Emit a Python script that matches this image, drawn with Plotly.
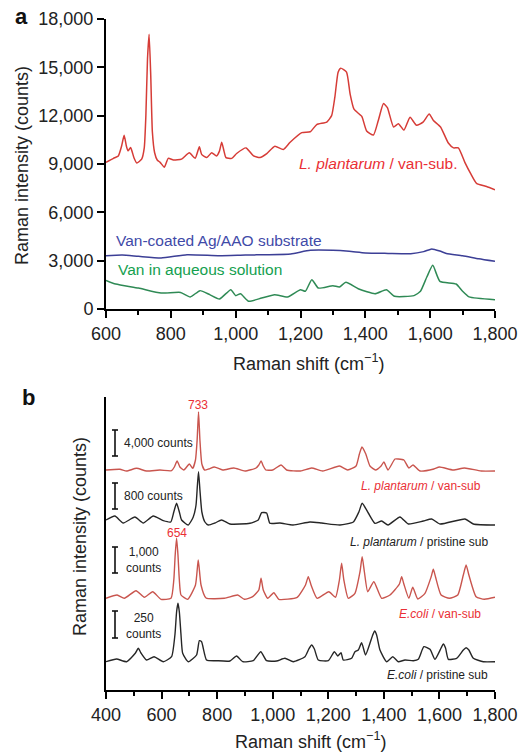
import plotly.graph_objects as go

W, H = 528, 752

# ---------------- Panel a data (Raman shift cm^-1, counts) ----------------
lp_van_x = [600, 623, 638, 648, 656, 663, 668, 676, 686, 695, 710, 718, 723, 728, 733, 738, 743, 750,
            758, 767, 780, 792, 808, 833, 857, 875, 888, 895, 911, 926, 941, 950, 957, 964, 970, 988,
            1003, 1032, 1055, 1075, 1096, 1121, 1147, 1168, 1204, 1230, 1250, 1281, 1296, 1306, 1316,
            1324, 1342, 1353, 1365, 1389, 1404, 1425, 1440, 1456, 1468, 1487, 1502, 1519, 1538, 1558,
            1578, 1597, 1610, 1632, 1656, 1672, 1687, 1707, 1725, 1743, 1774, 1800]
lp_van_y = [9100, 9350, 9500, 10100, 10780, 10100, 9820, 10020, 9400, 9060, 9300, 10000, 12000, 15500,
            17050, 14500, 11000, 9700, 9250, 9100, 8800, 9350, 9250, 9300, 9700, 9350, 10070, 9600,
            9400, 9700, 9500, 9800, 10350, 9800, 9400, 9350, 9650, 10000, 9500, 9400, 9650, 10100,
            9900, 10350, 10950, 11000, 11450, 11600, 12000, 13150, 14700, 14950, 14700, 13350, 12400,
            11950, 11050, 10800, 11700, 12750, 12500, 11300, 11500, 11100, 11900, 11400, 11600, 12100,
            11700, 11300, 10300, 10000, 10000, 9100, 8400, 7800, 7600, 7400]

sub_x = [600, 650, 700, 770, 850, 950, 1030, 1100, 1170, 1230, 1300, 1350, 1400, 1470, 1540, 1580,
         1605, 1630, 1650, 1700, 1750, 1800]
sub_y = [3310, 3350, 3270, 3170, 3370, 3310, 3350, 3370, 3420, 3640, 3640, 3580, 3480, 3450, 3430,
         3560, 3730, 3600, 3450, 3310, 3120, 2960]

aq_x = [600, 630, 700, 770, 830, 860, 890, 920, 950, 985, 1000, 1015, 1040, 1080, 1120, 1160, 1200,
        1215, 1235, 1255, 1300, 1320, 1340, 1380, 1430, 1465, 1490, 1550, 1570, 1590, 1608, 1630,
        1680, 1700, 1720, 1800]
aq_y = [1780, 1550, 1300, 990, 1030, 750, 1140, 890, 620, 1200, 830, 950, 480, 680, 890, 750, 1200,
        1100, 1820, 1300, 1450, 1370, 1660, 1240, 950, 1200, 790, 830, 1100, 2000, 2710, 1720, 1550,
        1100, 750, 580]

# ---------------- Panel b data (Raman shift, stacked display units) ----------------
lpv_x = [400, 450, 474, 510, 546, 594, 636, 646, 656, 666, 680, 700, 712, 722, 728, 733, 738, 745,
         755, 770, 790, 820, 860, 900, 940, 950, 958, 966, 975, 1000, 1030, 1050, 1100, 1140, 1180,
         1240, 1270, 1300, 1312, 1321, 1335, 1350, 1370, 1390, 1400, 1415, 1440, 1452, 1472, 1490,
         1505, 1530, 1580, 1600, 1650, 1690, 1750, 1800]
lpv_y = [220, 220.7, 219, 221.7, 219, 220, 219.3, 223, 229, 223, 220, 226, 221.7, 230, 250, 278,
         250, 226, 220, 221, 223, 220, 222, 219, 222, 225, 229, 224, 220, 220, 225, 220, 219, 222,
         219, 224, 220, 224, 236, 243, 236, 224, 220, 224, 228, 220, 231, 231, 230, 222, 225, 219,
         221, 223, 220, 222, 219, 219]

lpp_x = [400, 432, 462, 504, 534, 570, 606, 633, 644, 654, 664, 672, 696, 714, 724, 729, 733, 738,
         745, 756, 768, 792, 816, 846, 918, 948, 960, 978, 990, 1026, 1073, 1134, 1176, 1242, 1290,
         1310, 1322, 1344, 1368, 1392, 1415, 1458, 1488, 1542, 1572, 1602, 1692, 1722, 1800]
lpp_y = [170, 174, 167, 173, 167, 174, 169.3, 168, 178, 186.7, 178, 170, 165, 173, 185, 205, 218.3,
         200, 178, 168, 165, 167, 170, 166, 166.7, 170, 177.3, 177, 166.7, 167, 165, 168, 167, 165,
         168, 178, 186.7, 177, 166.7, 169, 165, 173, 166, 169, 171, 166, 171, 166, 165]

ecv_x = [400, 440, 466, 508, 538, 568, 598, 634, 644, 649, 654, 659, 664, 670, 694, 722, 732, 742,
         760, 826, 874, 898, 928, 950, 958, 966, 982, 1004, 1022, 1088, 1118, 1128, 1138, 1160, 1202,
         1226, 1240, 1248, 1256, 1272, 1296, 1314, 1322, 1330, 1342, 1364, 1392, 1422, 1456, 1464,
         1472, 1490, 1504, 1522, 1548, 1570, 1578, 1586, 1606, 1636, 1666, 1686, 1696, 1706, 1732,
         1762, 1800]
ecv_y = [91.7, 95, 91.7, 99.3, 92.7, 98.3, 90.7, 91.7, 110, 135, 151.7, 135, 110, 95, 90.7, 105,
         130, 105, 92, 91.7, 95, 90.7, 93.3, 100, 111.7, 100, 91.7, 97.3, 90.7, 92.7, 105, 113.3, 105,
         91.7, 98.3, 92.7, 110, 126.7, 110, 91.7, 96.7, 118, 133.3, 118, 98.3, 108.3, 91.7, 95, 106,
         113.3, 106, 91.7, 102.7, 91, 96.7, 113, 120.7, 113, 95, 91.7, 95, 115, 125, 115, 93.3, 90.7,
         92.7]

ecp_x = [400, 438, 474, 506, 516, 526, 546, 573, 606, 636, 648, 654, 659, 664, 670, 676, 696, 726,
         736, 744, 762, 798, 846, 870, 892, 930, 957, 978, 1014, 1044, 1074, 1116, 1130, 1140, 1150,
         1164, 1200, 1222, 1234, 1246, 1254, 1284, 1296, 1308, 1320, 1334, 1350, 1360, 1367, 1374,
         1386, 1410, 1432, 1452, 1476, 1506, 1524, 1544, 1566, 1584, 1606, 1614, 1622, 1632, 1662,
         1686, 1696, 1706, 1722, 1758, 1800]
ecp_y = [28.3, 31, 28.3, 37, 41.7, 37, 30, 33.3, 28.3, 33.3, 55, 78, 86.7, 78, 55, 36.7, 28.3, 35,
         49.3, 48.3, 30, 29.3, 29, 34, 28.3, 29.3, 38.3, 29.3, 29, 31.7, 28.3, 33.3, 41, 45, 41, 30,
         29.3, 38.3, 34, 37.3, 30, 31.7, 38.3, 40, 47.3, 35, 46.7, 55, 59, 55, 40, 28.3, 33.3, 28.3,
         30, 29.3, 30.7, 43.3, 40.7, 30.7, 42, 46, 42, 30.7, 31.7, 40, 42.3, 40, 31.7, 28.3, 28.3]

# scale bars (bottom, top) in panel-b display units
scalebar_ranges = [(234, 260), (181, 207), (117, 143), (52, 79)]

FONT = "Liberation Sans, Arial, sans-serif"
RED_TXT = "#ea2f35"
RED_A = "#d63c37"
RED_B = "#c9554e"
BLUE = "#3c3f96"
BLUE_TXT = "#3f4aa8"
GREEN = "#2f8a55"
GREEN_TXT = "#14a04f"
DARK = "#262626"


def px(x):
    return x / W


def py(y):
    return 1 - y / H


fig = go.Figure()
for xs, ys, col, ax, ay, w in [
    (lp_van_x, lp_van_y, RED_A, "x", "y", 1.5),
    (sub_x, sub_y, BLUE, "x", "y", 1.5),
    (aq_x, aq_y, GREEN, "x", "y", 1.5),
    (lpv_x, lpv_y, RED_B, "x2", "y2", 1.4),
    (lpp_x, lpp_y, DARK, "x2", "y2", 1.4),
    (ecv_x, ecv_y, RED_B, "x2", "y2", 1.4),
    (ecp_x, ecp_y, DARK, "x2", "y2", 1.4),
]:
    fig.add_trace(go.Scatter(x=xs, y=ys, mode="lines",
                             line=dict(color=col, width=w, shape="spline", smoothing=0.5),
                             xaxis=ax, yaxis=ay))

xdom = [px(106), px(495)]
axis_common = dict(showgrid=False, zeroline=False, showline=True, linecolor="black", linewidth=2,
                   tickfont=dict(family=FONT, size=18, color="#222"), ticks="outside",
                   tickcolor="black", tickwidth=2, ticklen=7, automargin=False)

fig.update_layout(
    width=W, height=H, margin=dict(l=0, r=0, t=0, b=0, pad=0), autosize=False,
    paper_bgcolor="white", plot_bgcolor="white", showlegend=False,
    xaxis=dict(domain=xdom, range=[600, 1800], anchor="y", dtick=200, tick0=600, tickformat=",d",
               minor=dict(ticks="outside", dtick=100, ticklen=4, tickwidth=2, tickcolor="black"),
               **axis_common),
    yaxis=dict(domain=[py(309), py(19)], range=[0, 18000], anchor="x", dtick=3000,
               tickformat=",d", **axis_common),
    xaxis2=dict(domain=xdom, range=[400, 1800], anchor="y2", dtick=200, tick0=400, tickformat=",d",
                minor=dict(ticks="outside", dtick=100, ticklen=4, tickwidth=2, tickcolor="black"),
                **axis_common),
    yaxis2=dict(domain=[py(690), py(397)], range=[0, 293], anchor="x2", showgrid=False,
                zeroline=False, showline=True, linecolor="black", linewidth=2,
                showticklabels=False, ticks="", automargin=False),
)

ann = []


def add_text(text, x, y, size, color, xanchor="center", bold=False, angle=0):
    ann.append(dict(text=("<b>%s</b>" % text) if bold else text, x=px(x), y=py(y), xref="paper",
                    yref="paper", xanchor=xanchor, yanchor="middle", showarrow=False,
                    textangle=angle, font=dict(family=FONT, size=size, color=color)))


add_text("a", 21, 16, 22, "#111", bold=True)
add_text("b", 28, 397, 22, "#111", bold=True)
add_text("Raman intensity (counts)", 22, 166, 18, "#222", angle=-90)
add_text("Raman shift (cm<sup>−1</sup>)", 308, 362, 18, "#222")
add_text("Raman intensity (counts)", 80, 537, 18, "#222", angle=-90)
add_text("Raman shift (cm<sup>−1</sup>)", 310, 740, 18, "#222")

add_text("<i>L. plantarum</i> / van-sub.", 297, 163, 15.5, RED_TXT, xanchor="left")
add_text("Van-coated Ag/AAO substrate", 114, 240, 15.5, BLUE_TXT, xanchor="left")
add_text("Van in aqueous solution", 116, 269, 15.5, GREEN_TXT, xanchor="left")

add_text("733", 198, 405, 12, RED_TXT)
add_text("654", 177, 533, 12, RED_TXT)
add_text("4,000 counts", 122, 443, 12, "#222", xanchor="left")
add_text("800 counts", 122, 496, 12, "#222", xanchor="left")
add_text("1,000<br>counts", 143, 560, 12, "#222")
add_text("250<br>counts", 143, 626, 12, "#222")
add_text("<i>L. plantarum</i> / van-sub", 483, 486, 12, RED_TXT, xanchor="right")
add_text("<i>L. plantarum</i> / pristine sub", 490, 542, 12, "#222", xanchor="right")
add_text("<i>E.coli</i> / van-sub", 483, 614, 12, RED_TXT, xanchor="right")
add_text("<i>E.coli</i> / pristine sub", 490, 675, 12, "#222", xanchor="right")

shapes = []
for lo, hi in scalebar_ranges:
    shapes.append(dict(type="line", xref="paper", yref="y2", x0=px(115), x1=px(115), y0=lo, y1=hi,
                       line=dict(color="#111", width=1.6)))
    for v in (lo, hi):
        shapes.append(dict(type="line", xref="paper", yref="y2", x0=px(112), x1=px(118), y0=v,
                           y1=v, line=dict(color="#111", width=1.6)))

fig.update_layout(annotations=ann, shapes=shapes)
fig.write_html("out.html", config={"displayModeBar": False},
               post_script="document.body.style.margin='0';document.body.style.padding='0';"
                           "document.body.style.overflow='hidden';")
